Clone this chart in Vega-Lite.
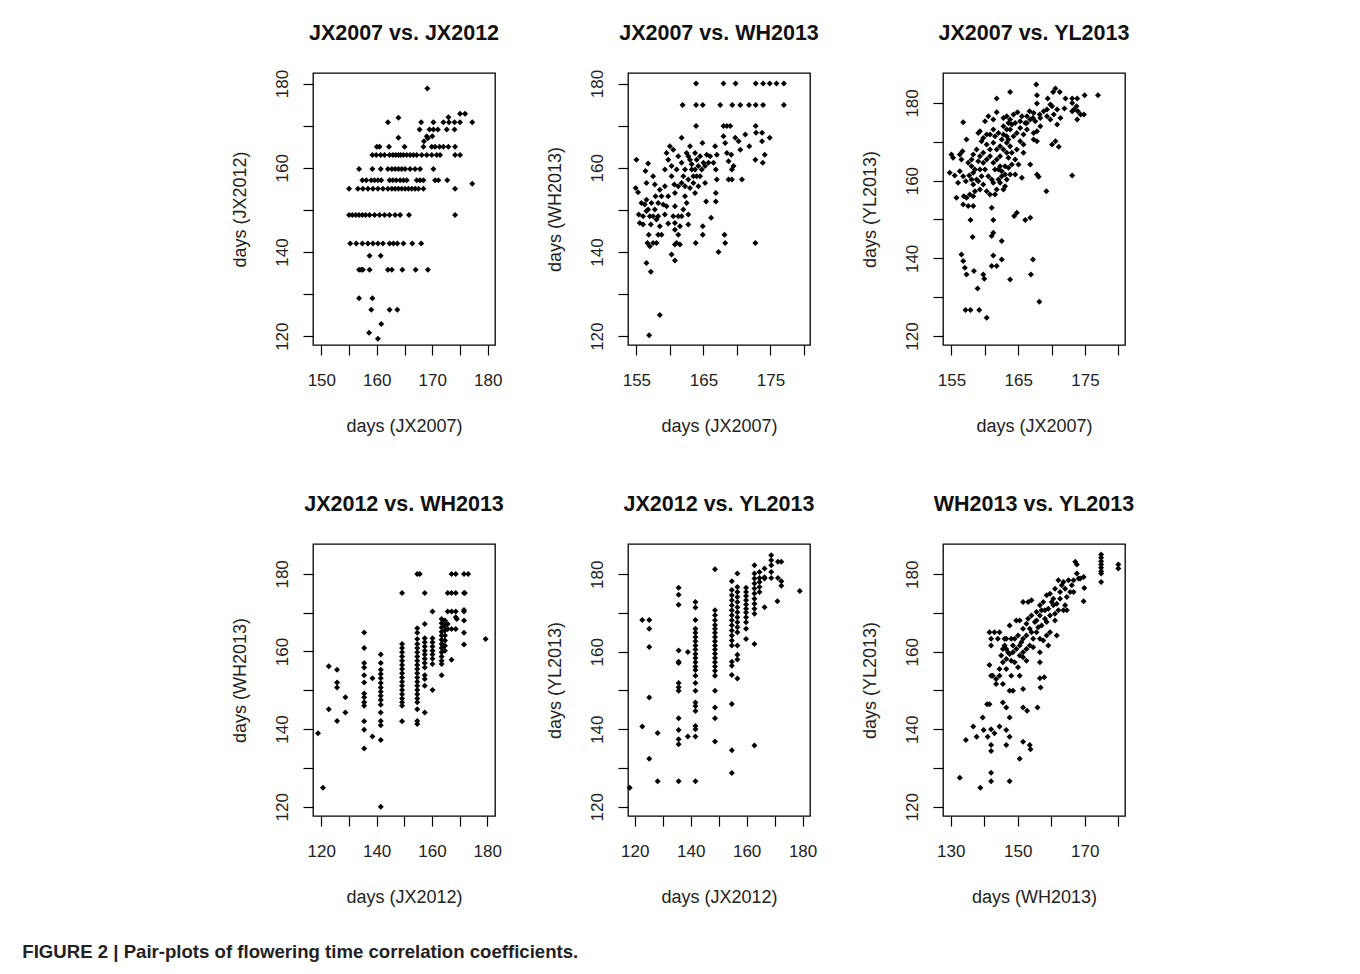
{
"$schema": "https://vega.github.io/schema/vega-lite/v6.json",
"background": "white",
"padding": {"left": 22, "top": 21, "right": 5, "bottom": 5},
"bounds": "flush",
"columns": 3,
"spacing": {"row": 199, "column": 133},
"title": {"text": "FIGURE 2 | Pair-plots of flowering time correlation coefficients.", "orient": "bottom", "anchor": "start", "font": "Liberation Sans", "fontSize": 18.6, "fontWeight": "bold", "color": "#222", "offset": 36, "dx": -208},
"datasets": {
"p1": [
{"x":169.1,"y":178.8},
{"x":163.9,"y":171.9},{"x":172.9,"y":172},{"x":175,"y":172.8},{"x":175.9,"y":172.8},
{"x":162,"y":170.8},{"x":168,"y":170.8},{"x":170.2,"y":170.8},{"x":172,"y":170.8},{"x":173,"y":170.8},{"x":174,"y":170.8},{"x":175,"y":170.8},{"x":177.2,"y":170.8},
{"x":167.7,"y":169.1},{"x":169.5,"y":169.1},{"x":170.2,"y":169.1},{"x":171,"y":169.1},{"x":172.6,"y":169.1},{"x":174,"y":169.1},
{"x":163.9,"y":167.1},{"x":169,"y":167.5},{"x":170,"y":167.5},{"x":168.5,"y":166.3},{"x":169.2,"y":167},
{"x":160,"y":165},{"x":160.5,"y":165},{"x":162.2,"y":165},{"x":165,"y":165},{"x":168.4,"y":165},{"x":169.9,"y":165},{"x":170.5,"y":165},{"x":171.3,"y":165},{"x":172,"y":165},{"x":172.9,"y":165},{"x":174.1,"y":165},
{"x":159.2,"y":163},{"x":159.9,"y":163},{"x":160.7,"y":163},{"x":161.4,"y":163},{"x":162.3,"y":163},{"x":162.9,"y":163},{"x":163.4,"y":163},{"x":163.9,"y":163},{"x":164.3,"y":163},{"x":164.8,"y":163},{"x":165.4,"y":163},{"x":166,"y":163},{"x":166.6,"y":163},{"x":167.2,"y":163},{"x":168.1,"y":163},{"x":169,"y":163},{"x":169.9,"y":163},{"x":170.8,"y":163},{"x":171.4,"y":163},{"x":174.1,"y":163},{"x":175,"y":163},
{"x":156.8,"y":159.7},{"x":159.2,"y":159.7},{"x":160.7,"y":159.7},{"x":162,"y":159.7},{"x":162.7,"y":159.7},{"x":163.3,"y":159.7},{"x":163.9,"y":159.7},{"x":164.5,"y":159.7},{"x":165.1,"y":159.7},{"x":166,"y":159.7},{"x":166.9,"y":159.7},{"x":167.8,"y":159.7},{"x":170.2,"y":159.7},
{"x":157.4,"y":157},{"x":158.1,"y":157},{"x":159,"y":157},{"x":159.6,"y":157},{"x":160.2,"y":157},{"x":160.8,"y":157},{"x":162.3,"y":157},{"x":162.9,"y":157},{"x":163.5,"y":157},{"x":164.2,"y":157},{"x":164.8,"y":157},{"x":165.4,"y":157},{"x":167.2,"y":157},{"x":167.8,"y":157},{"x":168.4,"y":157},{"x":170.5,"y":157},{"x":171.1,"y":157},{"x":172.7,"y":157},
{"x":155,"y":155},{"x":156.6,"y":155},{"x":157.5,"y":155},{"x":158.4,"y":155},{"x":159.3,"y":155},{"x":160.2,"y":155},{"x":161.1,"y":155},{"x":162,"y":155},{"x":162.7,"y":155},{"x":163.3,"y":155},{"x":163.9,"y":155},{"x":164.5,"y":155},{"x":165.1,"y":155},{"x":165.7,"y":155},{"x":166.3,"y":155},{"x":166.9,"y":155},{"x":167.5,"y":155},{"x":168.4,"y":155},{"x":174.1,"y":155},{"x":177.2,"y":156.2},
{"x":155,"y":148.8},{"x":155.6,"y":148.8},{"x":156.2,"y":148.8},{"x":156.8,"y":148.8},{"x":157.4,"y":148.8},{"x":158,"y":148.8},{"x":158.7,"y":148.8},{"x":159.6,"y":148.8},{"x":160.5,"y":148.8},{"x":161.4,"y":148.8},{"x":162.3,"y":148.8},{"x":163.3,"y":148.8},{"x":164.2,"y":148.8},{"x":165.8,"y":148.8},{"x":174.1,"y":148.8},
{"x":155.2,"y":142},{"x":156.3,"y":142},{"x":157.4,"y":142},{"x":158.4,"y":142},{"x":159.3,"y":142},{"x":160.2,"y":142},{"x":161.1,"y":142},{"x":162.3,"y":142},{"x":163,"y":142},{"x":163.7,"y":142},{"x":164.8,"y":142},{"x":166.4,"y":142},{"x":168,"y":142},
{"x":158.7,"y":139.1},{"x":160.7,"y":139.1},
{"x":156.8,"y":135.8},{"x":157.2,"y":135.8},{"x":157.5,"y":135.8},{"x":158.7,"y":135.8},{"x":162,"y":135.8},{"x":162.7,"y":135.8},{"x":164.6,"y":135.8},{"x":167,"y":135.8},{"x":169.2,"y":135.8},
{"x":156.8,"y":129},{"x":159.2,"y":129},
{"x":159,"y":126.3},{"x":162.3,"y":126.3},{"x":163.7,"y":126.3},
{"x":160.8,"y":122.9},{"x":158.6,"y":120.8},{"x":160.2,"y":119.4}
],
"p2": [
{"x":163.9,"y":180},{"x":168,"y":180},{"x":169.8,"y":180},{"x":172.8,"y":180},{"x":173.9,"y":180},{"x":174.9,"y":180},{"x":175.9,"y":180},{"x":177,"y":180},
{"x":161.9,"y":174.9},{"x":163.9,"y":174.9},{"x":164.9,"y":174.9},{"x":167.5,"y":174.9},{"x":169.3,"y":174.9},{"x":170.5,"y":174.9},{"x":171.8,"y":174.9},{"x":172.8,"y":174.9},{"x":173.9,"y":174.9},{"x":177,"y":174.9},
{"x":163.9,"y":169.9},{"x":168,"y":169.9},{"x":168.5,"y":169.9},{"x":169,"y":169.9},{"x":172.8,"y":169.9},
{"x":155,"y":161.9},{"x":154.9,"y":155.2},{"x":155.25,"y":154.2},{"x":155.35,"y":148.9},{"x":155.5,"y":146.9},{"x":156,"y":146.5},{"x":156.35,"y":159.2},{"x":156.5,"y":156.4},{"x":156.75,"y":161},{"x":156.5,"y":152.4},{"x":156.25,"y":151.25},{"x":156.75,"y":150.1},{"x":157,"y":148.5},{"x":157.15,"y":146.5},{"x":156.85,"y":144.1},{"x":156.65,"y":142.15},{"x":157,"y":141.35},{"x":157.5,"y":142.15},{"x":158,"y":142.15},{"x":157.5,"y":158},{"x":157.75,"y":156},{"x":157.85,"y":153.2},{"x":157.25,"y":151.65},{"x":157.75,"y":150.1},{"x":158.25,"y":148.5},{"x":158.5,"y":146.1},{"x":158.25,"y":144.1},{"x":158.75,"y":144.1},{"x":158.5,"y":154.8},{"x":159,"y":151.25},{"x":159.25,"y":148.9},{"x":159.75,"y":146.75},{"x":159.5,"y":150.85},{"x":159.75,"y":153.2},{"x":159.25,"y":159.6},{"x":159.75,"y":161.9},{"x":159.5,"y":163.5},{"x":160,"y":165.1},{"x":160.5,"y":164.3},{"x":160.25,"y":160.4},{"x":160.25,"y":158},{"x":160.65,"y":156},{"x":161,"y":159.6},{"x":160.75,"y":154},{"x":160.75,"y":150.85},{"x":161.25,"y":148.5},{"x":160.75,"y":145.3},{"x":161.25,"y":144.1},{"x":161,"y":142.15},{"x":160.75,"y":141.75},{"x":161.5,"y":141.75},{"x":160.25,"y":139.4},{"x":160.75,"y":137.95},{"x":161.75,"y":167.1},{"x":161.25,"y":162.7},{"x":161.75,"y":161.2},{"x":162,"y":158},{"x":162.25,"y":155.6},{"x":162.25,"y":153.2},{"x":162.5,"y":151.65},{"x":162.75,"y":148.9},{"x":162.75,"y":146.5},{"x":163,"y":165.1},{"x":162.75,"y":162.7},{"x":163.25,"y":159.6},{"x":163.5,"y":156.4},{"x":163.75,"y":154},{"x":164,"y":161.9},{"x":164.25,"y":160.4},{"x":164.5,"y":158},{"x":164.85,"y":165.9},{"x":165,"y":161.2},{"x":165.25,"y":156.4},{"x":165.4,"y":152},{"x":164.9,"y":146.1},{"x":164.9,"y":144.1},{"x":163.85,"y":142.15},{"x":166.15,"y":148.1},{"x":165.5,"y":163.1},{"x":166,"y":162.7},{"x":166.5,"y":161.2},{"x":166.85,"y":159.6},{"x":167,"y":157.2},{"x":166.85,"y":154},{"x":166.85,"y":152},{"x":167.25,"y":140},{"x":168.15,"y":144.1},{"x":168.25,"y":142.15},{"x":166.75,"y":165.1},{"x":167,"y":163.1},{"x":168,"y":167.5},{"x":168.25,"y":165.9},{"x":168.5,"y":163.5},{"x":168.75,"y":161.55},{"x":169.15,"y":163.1},{"x":169.5,"y":160.4},{"x":169.25,"y":159.6},{"x":168.75,"y":157.2},{"x":169.25,"y":157.2},{"x":169.75,"y":167.1},{"x":170.25,"y":166.3},{"x":170.5,"y":164.3},{"x":170.75,"y":157.2},{"x":171.25,"y":167.9},{"x":171.85,"y":165.1},{"x":172.85,"y":168.3},{"x":172.75,"y":161.9},{"x":173.75,"y":166.3},{"x":173.85,"y":161.2},{"x":174.15,"y":163.1},{"x":174.9,"y":167.1},{"x":173.75,"y":168.3},{"x":172.75,"y":142.15},{"x":156.5,"y":137.4},{"x":157.15,"y":135.3},{"x":158.5,"y":125},{"x":156.9,"y":120.2},
{"x":162.5,"y":163.5},{"x":163,"y":161.9},{"x":163.25,"y":160.8},{"x":163.75,"y":159.6},{"x":164,"y":158},{"x":163.5,"y":158},{"x":162.75,"y":157.2},{"x":162.25,"y":159.6},{"x":161.75,"y":156.4},{"x":161.25,"y":155.6},{"x":163,"y":155.2},{"x":164.25,"y":155.6},{"x":164.75,"y":159.6},{"x":165.25,"y":160.4},{"x":165.75,"y":161.2},{"x":163.75,"y":163.5},{"x":164.5,"y":162.7},{"x":159.25,"y":155.6},{"x":158.75,"y":153.2},{"x":158.25,"y":151.65},{"x":157.5,"y":148.5},{"x":158,"y":147.7},{"x":156.5,"y":149.7},{"x":156,"y":148.5},{"x":155.75,"y":151.65},{"x":161.75,"y":148.5},{"x":162,"y":150.1},{"x":160.5,"y":148.5},{"x":160.75,"y":146.9},{"x":161.5,"y":146.1}
],
"p3": [
{"x":167.71,"y":184.71},{"x":163.79,"y":182.83},{"x":161.78,"y":181.11},{"x":167.81,"y":181.97},{"x":170.58,"y":183.68},{"x":170.23,"y":182.83},{"x":171.23,"y":182.83},{"x":169.42,"y":181.11},{"x":172.09,"y":181.11},{"x":173.09,"y":181.11},{"x":173.84,"y":181.11},{"x":174.95,"y":181.97},{"x":176.96,"y":181.97},{"x":167.81,"y":179.83},{"x":170.08,"y":179.14},{"x":173.09,"y":180},{"x":173.74,"y":179.14},{"x":171.93,"y":178.54},{"x":173.09,"y":177.86},{"x":174.35,"y":177},{"x":174.85,"y":177},{"x":173.84,"y":175.72},{"x":173.34,"y":178.29},{"x":173.94,"y":177.86},
{"x":156.76,"y":175.03},{"x":160.03,"y":175.29},{"x":160.53,"y":176.57},{"x":161.28,"y":175.72},{"x":161.78,"y":177.6},{"x":162.79,"y":176.14},{"x":163.29,"y":176.57},{"x":163.79,"y":175.72},{"x":164.3,"y":177},{"x":164.9,"y":177.6},{"x":165.55,"y":176.57},{"x":166.06,"y":174.86},{"x":166.71,"y":177.86},{"x":167.21,"y":176.14},{"x":167.56,"y":175.29},{"x":168.22,"y":177},{"x":168.82,"y":177.86},{"x":169.32,"y":176.57},{"x":169.82,"y":175.72},{"x":170.33,"y":177},{"x":170.83,"y":174.43},{"x":168.32,"y":174},{"x":167.81,"y":172.72},{"x":167.31,"y":170.57},{"x":166.81,"y":175.72},{"x":166.31,"y":173.14},{"x":165.8,"y":171.86},{"x":165.3,"y":173.57},{"x":164.8,"y":172.29},{"x":164.3,"y":171.43},{"x":163.79,"y":173.14},{"x":163.29,"y":171.43},{"x":162.79,"y":174},{"x":162.54,"y":170.57},{"x":162.04,"y":172.29},{"x":161.53,"y":171.43},{"x":161.28,"y":169.72},{"x":160.78,"y":168},{"x":160.28,"y":169.29},{"x":159.77,"y":171},{"x":159.27,"y":172.72},{"x":159.02,"y":172.29},{"x":159.52,"y":170.15},{"x":158.77,"y":168},{"x":158.27,"y":166.72},{"x":158.02,"y":165.43},{"x":157.26,"y":170.57},{"x":156.66,"y":167.58},{"x":156.5,"y":165.43},{"x":156.26,"y":166.72},{"x":155,"y":166.72},{"x":155.25,"y":165.86},{"x":154.75,"y":162},{"x":155.5,"y":161.32},{"x":156,"y":159.43},{"x":156.26,"y":162.43},{"x":156.76,"y":161.15},{"x":157.16,"y":159.86},{"x":157.66,"y":161.32},{"x":158.02,"y":160.29},{"x":158.27,"y":159.01},{"x":158.77,"y":160.29},{"x":158.52,"y":162.86},{"x":158.02,"y":163.72},{"x":157.51,"y":164.58},{"x":159.27,"y":162.86},{"x":159.52,"y":161.15},{"x":159.77,"y":164.58},{"x":160.28,"y":165.43},{"x":160.78,"y":166.29},{"x":161.28,"y":164.58},{"x":161.78,"y":165.43},{"x":162.04,"y":162.86},{"x":162.54,"y":162.43},{"x":163.04,"y":163.72},{"x":163.54,"y":165.86},{"x":164.05,"y":167.15},{"x":164.55,"y":165.43},{"x":165.05,"y":164.15},{"x":165.8,"y":167.15},{"x":166.81,"y":164.15},{"x":165.55,"y":160.72},{"x":164.55,"y":161.58},{"x":163.79,"y":161.58},{"x":163.29,"y":160.29},{"x":163.04,"y":158.58},{"x":162.79,"y":157.72},{"x":162.29,"y":159.43},{"x":161.78,"y":157.72},{"x":161.53,"y":156.43},{"x":160.78,"y":156.43},{"x":160.28,"y":157.29},{"x":159.77,"y":159.01},{"x":159.27,"y":157.72},{"x":158.52,"y":157.29},{"x":158.27,"y":156},{"x":157.76,"y":156.43},{"x":157.26,"y":155.58},{"x":156.86,"y":156},{"x":155.75,"y":155.58},{"x":156.76,"y":153.86},{"x":157.51,"y":153.44},{"x":158.27,"y":153.44},{"x":167.81,"y":161.58},{"x":168.07,"y":160.98},{"x":169.22,"y":157.29},{"x":173.09,"y":161.32},{"x":170.08,"y":169.29},{"x":170.58,"y":170.15},{"x":171.08,"y":168.69},{"x":167.31,"y":172.29},{"x":167.81,"y":170.15},{"x":161.03,"y":153.01},{"x":161.28,"y":149.84},{"x":164.8,"y":151.72},{"x":164.4,"y":150.87},{"x":166.06,"y":149.84},{"x":166.81,"y":150.44},{"x":157.86,"y":149.84},{"x":158.17,"y":145.47},{"x":161.03,"y":145.72},{"x":161.28,"y":146.58},{"x":162.54,"y":144.44},{"x":156.5,"y":141.01},{"x":156.76,"y":139.3},{"x":157.01,"y":137.58},{"x":157.26,"y":135.87},{"x":158.37,"y":136.73},{"x":159.77,"y":135.87},{"x":159.92,"y":134.76},{"x":161.28,"y":140.75},{"x":161.03,"y":138.01},{"x":161.78,"y":138.01},{"x":162.54,"y":139.73},{"x":163.79,"y":134.58},{"x":167.21,"y":139.73},{"x":166.91,"y":135.87},{"x":158.92,"y":132.27},{"x":157.11,"y":126.7},{"x":157.86,"y":126.7},{"x":159.17,"y":126.7},{"x":160.28,"y":124.73},{"x":168.17,"y":128.84},
{"x":162.29,"y":168.86},{"x":162.79,"y":168},{"x":163.29,"y":169.72},{"x":163.79,"y":168.86},{"x":163.29,"y":167.15},{"x":162.29,"y":166.29},{"x":161.78,"y":168},{"x":161.53,"y":162.86},{"x":162.29,"y":163.72},{"x":163.04,"y":161.58},{"x":161.03,"y":160.29},{"x":160.53,"y":161.15},{"x":163.54,"y":174.86},{"x":164.05,"y":174.43},{"x":164.55,"y":174.86},{"x":165.3,"y":175.29},{"x":166.31,"y":176.57},{"x":167.31,"y":177.43},{"x":169.32,"y":178.29},{"x":162.79,"y":171.86},{"x":163.29,"y":173.14},{"x":163.54,"y":170.57},{"x":160.78,"y":171.86},{"x":161.28,"y":173.14},{"x":160.28,"y":171.86},{"x":159.27,"y":166.29},{"x":159.02,"y":165},{"x":159.77,"y":167.15},{"x":162.04,"y":160.29},{"x":162.54,"y":161.15},{"x":161.28,"y":159.43},{"x":160.03,"y":162.86},{"x":158.27,"y":162},{"x":159.02,"y":159.86},{"x":163.54,"y":163.29},{"x":164.05,"y":164.15},{"x":164.8,"y":168},{"x":165.3,"y":170.15},{"x":165.8,"y":169.29},{"x":166.31,"y":174.86},{"x":168.32,"y":176.14},{"x":169.82,"y":179.57},{"x":170.83,"y":178.29},{"x":171.33,"y":176.14}
],
"p4": [
{"x":118.8,"y":138.95},{"x":120.6,"y":124.9},{"x":122.7,"y":156.2},{"x":122.7,"y":145.1},{"x":125.7,"y":155.3},{"x":125.7,"y":152},{"x":125.7,"y":150.7},{"x":125.7,"y":142.1},{"x":128.7,"y":148.2},{"x":128.7,"y":144.3},
{"x":135.5,"y":164.9},{"x":135.5,"y":160.9},{"x":135.5,"y":157},{"x":135.5,"y":155.9},{"x":135.5,"y":153.9},{"x":135.5,"y":152},{"x":135.5,"y":149.2},{"x":135.5,"y":148.2},{"x":135.5,"y":146.9},{"x":135.5,"y":146},{"x":135.5,"y":142},{"x":135.5,"y":139.8},{"x":135.5,"y":135},
{"x":138.5,"y":153.1},{"x":138.5,"y":138.1},
{"x":141.5,"y":159.2},{"x":141.5,"y":157},{"x":141.5,"y":155.3},{"x":141.5,"y":154.2},{"x":141.5,"y":153.1},{"x":141.5,"y":151.9},{"x":141.5,"y":150.7},{"x":141.5,"y":149.6},{"x":141.5,"y":148.6},{"x":141.5,"y":147.5},{"x":141.5,"y":146.3},{"x":141.5,"y":144.3},{"x":141.5,"y":142.1},{"x":141.5,"y":141},{"x":141.5,"y":137.2},{"x":141.5,"y":120},
{"x":149.2,"y":175.1},{"x":149.2,"y":161.9},{"x":149.2,"y":160.9},{"x":149.2,"y":159.8},{"x":149.2,"y":158.7},{"x":149.2,"y":157.6},{"x":149.2,"y":156.5},{"x":149.2,"y":155.5},{"x":149.2,"y":154.4},{"x":149.2,"y":153.3},{"x":149.2,"y":152.2},{"x":149.2,"y":151.2},{"x":149.2,"y":150.1},{"x":149.2,"y":149},{"x":149.2,"y":147.9},{"x":149.2,"y":146.9},{"x":149.2,"y":146},{"x":149.2,"y":142},
{"x":154.7,"y":180},{"x":155.6,"y":180},
{"x":154.7,"y":166},{"x":154.7,"y":164.8},{"x":154.7,"y":163.2},{"x":154.7,"y":161.9},{"x":154.7,"y":160.9},{"x":154.7,"y":159.8},{"x":154.7,"y":158.7},{"x":154.7,"y":157.6},{"x":154.7,"y":156.5},{"x":154.7,"y":155.5},{"x":154.7,"y":154.4},{"x":154.7,"y":153.3},{"x":154.7,"y":152.2},{"x":154.7,"y":151.2},{"x":154.7,"y":150.1},{"x":154.7,"y":149},{"x":154.7,"y":147.9},{"x":154.7,"y":146.9},{"x":154.7,"y":145.1},{"x":154.7,"y":142.1},{"x":154.7,"y":141.3},
{"x":157.4,"y":175.1},{"x":157.4,"y":167.1},{"x":157.4,"y":163.4},{"x":157.4,"y":162.4},{"x":157.4,"y":161.3},{"x":157.4,"y":160.2},{"x":157.4,"y":159.2},{"x":157.4,"y":158.1},{"x":157.4,"y":157},{"x":157.4,"y":155.9},{"x":157.4,"y":153.9},{"x":157.4,"y":152.9},{"x":157.4,"y":151.2},{"x":157.4,"y":144.3},
{"x":160.2,"y":170.3},{"x":160.2,"y":163.4},{"x":160.2,"y":162.4},{"x":160.2,"y":161.3},{"x":160.2,"y":160.2},{"x":160.2,"y":159.2},{"x":160.2,"y":158.1},{"x":160.2,"y":156.8},{"x":160.2,"y":150.1},
{"x":163.5,"y":168.4},{"x":163.5,"y":167.3},{"x":163.5,"y":166.2},{"x":163.5,"y":165.1},{"x":163.5,"y":164.1},{"x":163.5,"y":163},{"x":163.5,"y":161.9},{"x":163.5,"y":160.9},{"x":163.5,"y":159.8},{"x":163.5,"y":158.7},{"x":163.5,"y":157.6},{"x":163.5,"y":156.8},{"x":163.5,"y":153.9},
{"x":164.7,"y":168},{"x":164.7,"y":166.7},{"x":164.7,"y":165.4},{"x":164.7,"y":164.1},{"x":164.7,"y":162.8},{"x":164.7,"y":161.5},{"x":164.7,"y":160.2},
{"x":165.7,"y":167.1},{"x":167.1,"y":157.9},
{"x":165.7,"y":165.8},{"x":167.1,"y":165.8},{"x":168.6,"y":165.8},
{"x":165.7,"y":170.3},{"x":167.1,"y":170.3},{"x":168.6,"y":170.3},{"x":171.6,"y":170.3},{"x":171.6,"y":170.7},
{"x":165.7,"y":175.1},{"x":167.1,"y":175.1},{"x":168.6,"y":175.1},{"x":171.6,"y":175.1},{"x":171.9,"y":175.1},
{"x":167.1,"y":180},{"x":168.6,"y":180},{"x":171.6,"y":180},{"x":173.1,"y":180},
{"x":168.6,"y":168.8},{"x":169,"y":168.4},{"x":171.6,"y":168},{"x":171.6,"y":164.8},{"x":171.6,"y":161.8},{"x":179.4,"y":163.2}
],
"p5": [
{"x":118.2,"y":124.9},{"x":122.7,"y":168.2},{"x":125.2,"y":168.2},{"x":125.2,"y":165.9},{"x":125.2,"y":161.2},{"x":125.2,"y":148.2},{"x":122.7,"y":140.7},{"x":125.2,"y":132.4},{"x":128.2,"y":139},{"x":128.2,"y":126.6},
{"x":135.7,"y":176.5},{"x":135.7,"y":174.7},{"x":135.7,"y":172.1},{"x":135.7,"y":160.3},{"x":135.7,"y":157.4},{"x":135.7,"y":157.1},{"x":135.7,"y":151.9},{"x":135.7,"y":150.8},{"x":135.7,"y":149.9},{"x":135.7,"y":142.8},{"x":135.7,"y":139.8},{"x":135.7,"y":137.4},{"x":135.7,"y":136.1},{"x":135.7,"y":126.6},
{"x":139,"y":159.9},{"x":139,"y":138.1},
{"x":141.7,"y":172.8},{"x":141.7,"y":171.4},{"x":141.7,"y":168.2},{"x":141.7,"y":165.9},{"x":141.7,"y":164.9},{"x":141.7,"y":163.8},{"x":141.7,"y":162.7},{"x":141.7,"y":161.6},{"x":141.7,"y":160.6},{"x":141.7,"y":159.4},{"x":141.7,"y":158.4},{"x":141.7,"y":157.3},{"x":141.7,"y":156.2},{"x":141.7,"y":155.3},{"x":141.7,"y":153.8},{"x":141.7,"y":151.9},{"x":141.7,"y":149.9},{"x":141.7,"y":146.9},{"x":141.7,"y":146},{"x":141.7,"y":144.7},{"x":141.7,"y":140.8},{"x":141.7,"y":140},{"x":141.7,"y":138.1},{"x":141.7,"y":126.6},
{"x":148.7,"y":181.3},{"x":148.7,"y":170.7},{"x":148.7,"y":169.4},{"x":148.7,"y":168.1},{"x":148.7,"y":166.9},{"x":148.7,"y":165.9},{"x":148.7,"y":164.9},{"x":148.7,"y":163.8},{"x":148.7,"y":162.7},{"x":148.7,"y":161.6},{"x":148.7,"y":160.6},{"x":148.7,"y":159.5},{"x":148.7,"y":158.4},{"x":148.7,"y":157.3},{"x":148.7,"y":156.2},{"x":148.7,"y":155.1},{"x":148.7,"y":153.8},{"x":148.7,"y":149.9},{"x":148.7,"y":145.6},{"x":148.7,"y":142.8},{"x":148.7,"y":136.8},
{"x":154.7,"y":178.2},{"x":154.7,"y":175.9},{"x":154.7,"y":174.6},{"x":154.7,"y":173.3},{"x":154.7,"y":172},{"x":154.7,"y":170.7},{"x":154.7,"y":169.4},{"x":154.7,"y":168.1},{"x":154.7,"y":166.8},{"x":154.7,"y":165.5},{"x":154.7,"y":164.2},{"x":154.7,"y":162.9},{"x":154.7,"y":161.6},{"x":154.7,"y":157.4},{"x":154.7,"y":156.4},{"x":154.7,"y":154},{"x":154.7,"y":146.5},{"x":154.7,"y":134.6},{"x":154.7,"y":128.7},
{"x":156.7,"y":180.2},{"x":156.7,"y":176.7},{"x":156.7,"y":175.4},{"x":156.7,"y":174.1},{"x":156.7,"y":172.8},{"x":156.7,"y":171.5},{"x":156.7,"y":170.2},{"x":156.7,"y":168.9},{"x":156.7,"y":167.6},{"x":156.7,"y":166.3},{"x":156.7,"y":165},{"x":156.7,"y":161.6},{"x":156.7,"y":159.2},{"x":156.7,"y":158},{"x":156.7,"y":153.1},
{"x":159.8,"y":176.5},{"x":159.8,"y":175.4},{"x":159.8,"y":174.4},{"x":159.8,"y":173.3},{"x":159.8,"y":172.2},{"x":159.8,"y":171.1},{"x":159.8,"y":170.1},{"x":159.8,"y":168.9},{"x":159.8,"y":167.6},{"x":159.8,"y":165.9},{"x":159.8,"y":163.3},
{"x":162.8,"y":162},{"x":162.8,"y":135.8},{"x":162.8,"y":182.3},{"x":162.8,"y":180.2},{"x":162.8,"y":178.9},{"x":162.8,"y":177.6},{"x":162.8,"y":176.3},{"x":162.8,"y":175},{"x":162.8,"y":173.7},{"x":162.8,"y":172.4},{"x":162.8,"y":171.1},{"x":162.8,"y":169.8},
{"x":164.6,"y":179},{"x":164.6,"y":178},{"x":164.6,"y":176.7},{"x":164.6,"y":175.4},{"x":164.6,"y":180.6},
{"x":166.4,"y":181.5},{"x":166.4,"y":178.9},{"x":166.4,"y":171.5},{"x":166.4,"y":179.2},
{"x":168.8,"y":184.9},{"x":168.8,"y":183.6},{"x":168.8,"y":182.3},{"x":168.8,"y":180.6},{"x":168.8,"y":179},
{"x":171.2,"y":183.2},{"x":171.2,"y":179},{"x":171,"y":173},{"x":172.4,"y":183.2},{"x":172.4,"y":178.2},{"x":172.4,"y":177},{"x":179,"y":175.7}
],
"p6": [
{"x":174.88,"y":185.1},{"x":174.88,"y":184.24},{"x":174.88,"y":183.37},{"x":174.88,"y":182.51},{"x":174.88,"y":181.64},{"x":174.88,"y":180.78},{"x":174.88,"y":180.17},{"x":174.88,"y":178.01},{"x":180,"y":182.51},{"x":180,"y":181.47},{"x":167.15,"y":183.2},{"x":167.65,"y":182.51},{"x":169.66,"y":179.31},{"x":169.86,"y":176.46},{"x":169.66,"y":173},{"x":167.65,"y":180.17},{"x":168.65,"y":178.88},{"x":168.15,"y":178.88},
{"x":162.13,"y":178.44},{"x":163.13,"y":177.15},{"x":164.14,"y":176.28},{"x":165.14,"y":178.44},{"x":166.14,"y":177.15},{"x":166.65,"y":175.42},{"x":164.64,"y":174.12},{"x":162.63,"y":175.42},{"x":161.12,"y":176.28},{"x":159.62,"y":174.99},{"x":160.62,"y":173.69},{"x":161.63,"y":172.39},{"x":158.61,"y":174.55},{"x":157.61,"y":172.83},{"x":156.61,"y":171.96},{"x":158.11,"y":170.67},{"x":159.12,"y":171.1},{"x":162.13,"y":170.67},{"x":163.63,"y":170.67},{"x":164.64,"y":170.67},{"x":159.62,"y":169.37},{"x":156.61,"y":169.37},{"x":155.6,"y":168.07},{"x":157.11,"y":166.78},{"x":158.61,"y":167.64},{"x":161.12,"y":168.07},{"x":161.63,"y":164.18},{"x":159.62,"y":165.05},{"x":159.12,"y":161.59},{"x":156.61,"y":163.32},{"x":155.6,"y":165.05},{"x":154.6,"y":163.32},{"x":153.59,"y":165.91},{"x":152.59,"y":167.21},{"x":153.09,"y":168.5},{"x":154.1,"y":169.37},{"x":151.59,"y":172.83},{"x":153.09,"y":172.83},{"x":154.1,"y":173.26},{"x":150.58,"y":168.07},{"x":150.08,"y":164.18},{"x":151.08,"y":162.45},{"x":149.58,"y":160.73},{"x":148.07,"y":163.32},{"x":146.57,"y":163.32},{"x":145.56,"y":160.73},{"x":145.06,"y":159},{"x":145.56,"y":157.27},{"x":146.57,"y":158.13},{"x":147.57,"y":159.43},{"x":148.57,"y":159.86},{"x":150.58,"y":159},{"x":151.59,"y":159.86},{"x":152.59,"y":160.73},{"x":153.59,"y":161.59},{"x":154.6,"y":161.16},{"x":156.61,"y":159.86},{"x":156.61,"y":157.27},{"x":152.59,"y":157.7},{"x":151.59,"y":158.57},{"x":150.08,"y":155.97},{"x":150.58,"y":153.81},{"x":148.07,"y":153.81},{"x":144.56,"y":153.81},{"x":143.55,"y":152.95},{"x":142.55,"y":153.81},{"x":145.56,"y":151.65},{"x":143.55,"y":151.65},{"x":141.55,"y":165.05},{"x":143.05,"y":165.05},{"x":144.56,"y":165.05},{"x":142.05,"y":163.32},{"x":142.05,"y":161.59},{"x":144.06,"y":163.32},{"x":146.06,"y":163.32},{"x":147.57,"y":166.78},{"x":149.58,"y":168.07},{"x":151.59,"y":165.91},{"x":146.57,"y":160.73},{"x":148.57,"y":161.59},{"x":156.61,"y":153.12},{"x":157.91,"y":153.38},{"x":156.81,"y":150.79},{"x":147.57,"y":149.92},{"x":148.57,"y":149.92},{"x":151.59,"y":150.35},{"x":141.55,"y":156.58},{"x":142.05,"y":153.81},{"x":141.55,"y":146.47},{"x":140.84,"y":146.47},{"x":145.56,"y":146.9},{"x":146.57,"y":145.6},{"x":147.57,"y":143},{"x":151.59,"y":145.6},{"x":152.79,"y":144.74},{"x":155.9,"y":145.6},{"x":139.54,"y":143},{"x":136.73,"y":140.67},{"x":134.52,"y":137.22},{"x":137.73,"y":138.08},{"x":139.84,"y":139.81},{"x":142.05,"y":139.98},{"x":141.04,"y":138.08},{"x":143.05,"y":138.95},{"x":144.56,"y":140.67},{"x":146.57,"y":139.81},{"x":147.57,"y":138.08},{"x":146.57,"y":135.92},{"x":142.05,"y":135.92},{"x":142.05,"y":134.37},{"x":151.59,"y":136.78},{"x":153.59,"y":135.92},{"x":153.8,"y":134.8},{"x":150.58,"y":132.38},{"x":142.05,"y":128.75},{"x":142.05,"y":126.59},{"x":147.57,"y":126.59},{"x":138.84,"y":124.86},{"x":132.71,"y":127.45},
{"x":160.62,"y":171.96},{"x":160.12,"y":172.83},{"x":158.11,"y":168.5},{"x":157.11,"y":170.67},{"x":155.6,"y":170.23},{"x":155.1,"y":167.64},{"x":156.1,"y":166.34},{"x":154.1,"y":165.05},{"x":152.59,"y":164.18},{"x":151.59,"y":163.32},{"x":150.58,"y":161.59},{"x":149.08,"y":163.32},{"x":147.07,"y":159.86},{"x":146.06,"y":161.59},{"x":148.07,"y":157.7},{"x":149.08,"y":157.27},{"x":144.56,"y":155.54},{"x":146.57,"y":155.54},{"x":162.63,"y":173.69},{"x":163.63,"y":178.01},{"x":165.64,"y":175.42},{"x":166.65,"y":178.44},{"x":164.14,"y":171.96},{"x":161.12,"y":169.8},{"x":158.61,"y":164.18},{"x":157.61,"y":162.89}
]
},
"config": {
"view": {"stroke": "black", "strokeWidth": 1.3},
"axis": {"domain": false, "grid": false, "ticks": true, "tickColor": "black", "tickSize": 10, "tickWidth": 1.2, "labelFont": "Liberation Sans", "labelFontSize": 17, "labelColor": "#222", "labelFlush": false, "labelOverlap": false, "titleFont": "Liberation Sans", "titleFontSize": 18, "titleFontWeight": "normal", "titleColor": "#222"},
"axisX": {"labelPadding": 17, "titlePadding": 29},
"axisY": {"labelAngle": -90, "labelAlign": "center", "labelBaseline": "bottom", "labelPadding": 12, "titlePadding": 24},
"title": {"font": "Liberation Sans", "fontSize": 21.5, "fontWeight": "bold", "color": "#111", "offset": 29, "anchor": "middle"},
"point": {"shape": "diamond", "filled": true, "size": 36, "color": "black", "opacity": 1}
},
"concat": [
{"title": {"text": "JX2007 vs. JX2012", "offset": 25}, "width": 182, "height": 272, "data": {"name": "p1"}, "mark": {"type": "point"},
 "encoding": {"x": {"field": "x", "type": "quantitative", "scale": {"domain": [148.5, 181.3], "nice": false, "zero": false}, "axis": {"title": "days (JX2007)", "values": [150,155,160,165,170,175,180], "labelExpr": "datum.value % 10 == 0 ? datum.label : ''"}},
  "y": {"field": "y", "type": "quantitative", "scale": {"domain": [117.9, 182.5], "nice": false, "zero": false}, "axis": {"title": "days (JX2012)", "values": [120,130,140,150,160,170,180], "labelExpr": "datum.value % 20 == 0 ? datum.label : ''"}}}},
{"title": {"text": "JX2007 vs. WH2013", "offset": 25}, "width": 182, "height": 272, "data": {"name": "p2"}, "mark": {"type": "point"},
 "encoding": {"x": {"field": "x", "type": "quantitative", "scale": {"domain": [153.75, 180.9], "nice": false, "zero": false}, "axis": {"title": "days (JX2007)", "values": [155,160,165,170,175,180], "labelExpr": "(datum.value - 155) % 10 == 0 ? datum.label : ''"}},
  "y": {"field": "y", "type": "quantitative", "scale": {"domain": [117.9, 182.5], "nice": false, "zero": false}, "axis": {"title": "days (WH2013)", "values": [120,130,140,150,160,170,180], "labelExpr": "datum.value % 20 == 0 ? datum.label : ''"}}}},
{"title": "JX2007 vs. YL2013", "width": 182, "height": 272, "data": {"name": "p3"}, "mark": {"type": "point"},
 "encoding": {"x": {"field": "x", "type": "quantitative", "scale": {"domain": [153.74, 181], "nice": false, "zero": false}, "axis": {"title": "days (JX2007)", "values": [155,160,165,170,175,180], "labelExpr": "(datum.value - 155) % 10 == 0 ? datum.label : ''"}},
  "y": {"field": "y", "type": "quantitative", "scale": {"domain": [117.7, 187.7], "nice": false, "zero": false}, "axis": {"title": "days (YL2013)", "values": [120,130,140,150,160,170,180], "labelExpr": "datum.value % 20 == 0 ? datum.label : ''"}}}},
{"title": "JX2012 vs. WH2013", "width": 182, "height": 272, "data": {"name": "p4"}, "mark": {"type": "point"},
 "encoding": {"x": {"field": "x", "type": "quantitative", "scale": {"domain": [117, 182.8], "nice": false, "zero": false}, "axis": {"title": "days (JX2012)", "values": [120,130,140,150,160,170,180], "labelExpr": "datum.value % 20 == 0 ? datum.label : ''"}},
  "y": {"field": "y", "type": "quantitative", "scale": {"domain": [117.6, 187.7], "nice": false, "zero": false}, "axis": {"title": "days (WH2013)", "values": [120,130,140,150,160,170,180], "labelExpr": "datum.value % 20 == 0 ? datum.label : ''"}}}},
{"title": "JX2012 vs. YL2013", "width": 182, "height": 272, "data": {"name": "p5"}, "mark": {"type": "point"},
 "encoding": {"x": {"field": "x", "type": "quantitative", "scale": {"domain": [117.6, 182.65], "nice": false, "zero": false}, "axis": {"title": "days (JX2012)", "values": [120,130,140,150,160,170,180], "labelExpr": "datum.value % 20 == 0 ? datum.label : ''"}},
  "y": {"field": "y", "type": "quantitative", "scale": {"domain": [117.6, 187.8], "nice": false, "zero": false}, "axis": {"title": "days (YL2013)", "values": [120,130,140,150,160,170,180], "labelExpr": "datum.value % 20 == 0 ? datum.label : ''"}}}},
{"title": "WH2013 vs. YL2013", "width": 182, "height": 272, "data": {"name": "p6"}, "mark": {"type": "point"},
 "encoding": {"x": {"field": "x", "type": "quantitative", "scale": {"domain": [127.7, 182], "nice": false, "zero": false}, "axis": {"title": "days (WH2013)", "values": [130,140,150,160,170,180], "labelExpr": "(datum.value - 130) % 20 == 0 ? datum.label : ''"}},
  "y": {"field": "y", "type": "quantitative", "scale": {"domain": [117.6, 187.8], "nice": false, "zero": false}, "axis": {"title": "days (YL2013)", "values": [120,130,140,150,160,170,180], "labelExpr": "datum.value % 20 == 0 ? datum.label : ''"}}}}
]
}
